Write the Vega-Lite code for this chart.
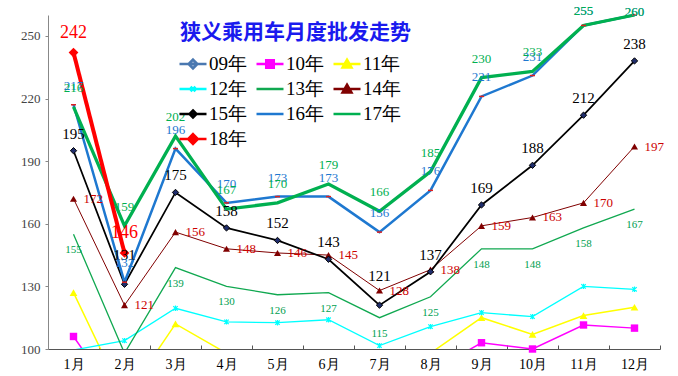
{
  "$schema": "https://vega.github.io/schema/vega-lite/v6.json",
  "width": 612,
  "height": 334,
  "autosize": {"type": "none"},
  "padding": {"left": 48, "top": 15, "right": 18, "bottom": 27},
  "background": "white",
  "config": {
    "view": {"stroke": null},
    "legend": {"title": null, "orient": "none", "legendX": 130, "legendY": 34, "columns": 3, "direction": "horizontal", "symbolSize": 729, "symbolStrokeWidth": 2.5, "labelFont": "Liberation Serif", "labelFontSize": 19, "labelColor": "#000", "columnPadding": 4, "rowPadding": -5, "labelOffset": 1, "padding": 0, "symbolOpacity": 1, "labelLimit": 0}
  },
  "title": {
    "text": "狭义乘用车月度批发走势",
    "anchor": "start",
    "frame": "group",
    "orient": "top",
    "offset": 0,
    "baseline": "middle",
    "dx": 132,
    "dy": 49,
    "font": "Noto Sans CJK SC",
    "fontSize": 21,
    "fontWeight": "bold",
    "color": "#1a1aee"
  },
  "data": {
    "values": [
      {"series": "09年", "month": "1月", "value": 66}, {"series": "09年", "month": "2月", "value": 67}, {"series": "09年", "month": "3月", "value": 84}, {"series": "09年", "month": "4月", "value": 85}, {"series": "09年", "month": "5月", "value": 81}, {"series": "09年", "month": "6月", "value": 88}, {"series": "09年", "month": "7月", "value": 84}, {"series": "09年", "month": "8月", "value": 87}, {"series": "09年", "month": "9月", "value": 97}, {"series": "09年", "month": "10月", "value": 92}, {"series": "09年", "month": "11月", "value": 96}, {"series": "09年", "month": "12月", "value": 98},
      {"series": "10年", "month": "1月", "value": 106}, {"series": "10年", "month": "2月", "value": 71}, {"series": "10年", "month": "3月", "value": 98}, {"series": "10年", "month": "4月", "value": 93}, {"series": "10年", "month": "5月", "value": 90}, {"series": "10年", "month": "6月", "value": 91}, {"series": "10年", "month": "7月", "value": 82}, {"series": "10年", "month": "8月", "value": 89}, {"series": "10年", "month": "9月", "value": 103}, {"series": "10年", "month": "10月", "value": 100}, {"series": "10年", "month": "11月", "value": 111.5}, {"series": "10年", "month": "12月", "value": 110},
      {"series": "11年", "month": "1月", "value": 127}, {"series": "11年", "month": "2月", "value": 76}, {"series": "11年", "month": "3月", "value": 112}, {"series": "11年", "month": "4月", "value": 98}, {"series": "11年", "month": "5月", "value": 94}, {"series": "11年", "month": "6月", "value": 97}, {"series": "11年", "month": "7月", "value": 85}, {"series": "11年", "month": "8月", "value": 98}, {"series": "11年", "month": "9月", "value": 115}, {"series": "11年", "month": "10月", "value": 107}, {"series": "11年", "month": "11月", "value": 116}, {"series": "11年", "month": "12月", "value": 120},
      {"series": "12年", "month": "1月", "value": 99.5}, {"series": "12年", "month": "2月", "value": 104}, {"series": "12年", "month": "3月", "value": 119.5}, {"series": "12年", "month": "4月", "value": 113}, {"series": "12年", "month": "5月", "value": 112.6}, {"series": "12年", "month": "6月", "value": 114}, {"series": "12年", "month": "7月", "value": 101.6}, {"series": "12年", "month": "8月", "value": 110.7}, {"series": "12年", "month": "9月", "value": 117.4}, {"series": "12年", "month": "10月", "value": 115.5}, {"series": "12年", "month": "11月", "value": 130}, {"series": "12年", "month": "12月", "value": 128.6},
      {"series": "13年", "month": "1月", "value": 155}, {"series": "13年", "month": "2月", "value": 98}, {"series": "13年", "month": "3月", "value": 139}, {"series": "13年", "month": "4月", "value": 130}, {"series": "13年", "month": "5月", "value": 126}, {"series": "13年", "month": "6月", "value": 127}, {"series": "13年", "month": "7月", "value": 115}, {"series": "13年", "month": "8月", "value": 125}, {"series": "13年", "month": "9月", "value": 148}, {"series": "13年", "month": "10月", "value": 148}, {"series": "13年", "month": "11月", "value": 158}, {"series": "13年", "month": "12月", "value": 167},
      {"series": "14年", "month": "1月", "value": 172}, {"series": "14年", "month": "2月", "value": 121}, {"series": "14年", "month": "3月", "value": 156}, {"series": "14年", "month": "4月", "value": 148}, {"series": "14年", "month": "5月", "value": 146}, {"series": "14年", "month": "6月", "value": 145}, {"series": "14年", "month": "7月", "value": 128}, {"series": "14年", "month": "8月", "value": 138}, {"series": "14年", "month": "9月", "value": 159}, {"series": "14年", "month": "10月", "value": 163}, {"series": "14年", "month": "11月", "value": 170}, {"series": "14年", "month": "12月", "value": 197},
      {"series": "15年", "month": "1月", "value": 195}, {"series": "15年", "month": "2月", "value": 131}, {"series": "15年", "month": "3月", "value": 175}, {"series": "15年", "month": "4月", "value": 158}, {"series": "15年", "month": "5月", "value": 152}, {"series": "15年", "month": "6月", "value": 143}, {"series": "15年", "month": "7月", "value": 121}, {"series": "15年", "month": "8月", "value": 137}, {"series": "15年", "month": "9月", "value": 169}, {"series": "15年", "month": "10月", "value": 188}, {"series": "15年", "month": "11月", "value": 212}, {"series": "15年", "month": "12月", "value": 238},
      {"series": "16年", "month": "1月", "value": 217}, {"series": "16年", "month": "2月", "value": 132}, {"series": "16年", "month": "3月", "value": 196}, {"series": "16年", "month": "4月", "value": 170}, {"series": "16年", "month": "5月", "value": 173}, {"series": "16年", "month": "6月", "value": 173}, {"series": "16年", "month": "7月", "value": 156}, {"series": "16年", "month": "8月", "value": 176}, {"series": "16年", "month": "9月", "value": 221}, {"series": "16年", "month": "10月", "value": 231}, {"series": "16年", "month": "11月", "value": 255}, {"series": "16年", "month": "12月", "value": 260},
      {"series": "17年", "month": "1月", "value": 216}, {"series": "17年", "month": "2月", "value": 159}, {"series": "17年", "month": "3月", "value": 202}, {"series": "17年", "month": "4月", "value": 167}, {"series": "17年", "month": "5月", "value": 170}, {"series": "17年", "month": "6月", "value": 179}, {"series": "17年", "month": "7月", "value": 166}, {"series": "17年", "month": "8月", "value": 185}, {"series": "17年", "month": "9月", "value": 230}, {"series": "17年", "month": "10月", "value": 233}, {"series": "17年", "month": "11月", "value": 255}, {"series": "17年", "month": "12月", "value": 260},
      {"series": "18年", "month": "1月", "value": 242}, {"series": "18年", "month": "2月", "value": 146}
    ]
  },
  "encoding": {
    "x": {
      "field": "month", "type": "ordinal", "bandPosition": 0.5,
      "scale": {"type": "band", "domain": ["1月","2月","3月","4月","5月","6月","7月","8月","9月","10月","11月","12月"], "paddingInner": 0, "paddingOuter": 0},
      "axis": {"title": null, "tickBand": "extent", "tickSize": -4, "tickColor": "#555", "domainColor": "#555", "labelFont": "Liberation Serif", "labelFontSize": 14, "labelColor": "#000", "labelPadding": 12, "labelAngle": 0, "grid": false}
    },
    "y": {
      "field": "value", "type": "quantitative",
      "scale": {"domain": [100, 260], "nice": false, "zero": false},
      "axis": {"title": null, "values": [100,130,160,190,220,250], "domainColor": "#888", "tickColor": "#888", "tickSize": 3, "labelFont": "Liberation Serif", "labelFontSize": 13, "labelColor": "#444", "labelPadding": 5, "grid": false}
    }
  },
  "layer": [
    {
      "transform": [{"filter": {"field": "series", "oneOf": ["09年","10年","11年","12年","13年"]}}],
      "mark": {"type": "line", "clip": true},
      "encoding": {
        "stroke": {"field": "series", "type": "nominal", "scale": {"domain": ["09年","10年","11年","12年","13年","14年","15年","16年","17年","18年"], "range": ["#4a78b0","#ff00ff","#ffff00","#00ffff","#10a850","#800000","#000000","#1e78d0","#00b050","#ff0000"]}, "legend": null},
        "strokeWidth": {"field": "series", "type": "nominal", "scale": {"type": "ordinal", "domain": ["09年","10年","11年","12年","13年","14年","15年","16年","17年","18年"], "range": [3, 1.5, 1.5, 1.3, 1.3, 1.2, 2.5, 3.5, 4, 3.5]}, "legend": null}
      }
    },
    {
      "transform": [{"filter": {"field": "series", "oneOf": ["14年","15年","16年","17年","18年"]}}],
      "mark": {"type": "line"},
      "encoding": {
        "stroke": {"field": "series", "type": "nominal", "legend": null},
        "strokeWidth": {"field": "series", "type": "nominal", "legend": null}
      }
    },
    {
      "transform": [{"filter": "datum.series == '10年' && datum.value >= 100"}],
      "mark": {"type": "point", "shape": "square", "filled": true, "fill": "#ff00ff", "size": 55, "opacity": 1}
    },
    {
      "transform": [{"filter": "datum.series == '11年' && datum.value >= 100"}],
      "mark": {"type": "point", "shape": "triangle-up", "filled": true, "fill": "#ffff00", "size": 60, "opacity": 1}
    },
    {
      "transform": [{"filter": "datum.series == '12年' && datum.value >= 100"}],
      "mark": {"type": "point", "shape": "M-1,-1L1,1M-1,1L1,-1M0,-1.2L0,1.2", "filled": false, "stroke": "#00ffff", "strokeWidth": 1.2, "size": 20, "opacity": 1}
    },
    {
      "transform": [{"filter": "datum.series == '14年'"}],
      "mark": {"type": "point", "shape": "triangle-up", "filled": true, "fill": "#800000", "size": 50, "opacity": 1}
    },
    {
      "transform": [{"filter": "datum.series == '15年'"}],
      "mark": {"type": "point", "shape": "diamond", "filled": true, "fill": "#1f2d6b", "stroke": "#000", "strokeWidth": 1, "size": 40, "opacity": 1}
    },
    {
      "transform": [{"filter": "datum.series == '16年'"}],
      "mark": {"type": "point", "shape": "M-1,0L1,0", "filled": false, "stroke": "#dd2020", "strokeWidth": 1.5, "size": 25, "opacity": 1}
    },
    {
      "transform": [{"filter": "datum.series == '18年'"}],
      "mark": {"type": "point", "shape": "diamond", "filled": true, "fill": "#ff0000", "size": 95, "opacity": 1}
    },
    {
      "transform": [{"filter": "datum.series == '13年' && datum.value >= 100"}],
      "mark": {"type": "text", "dy": 16, "font": "Liberation Serif", "fontSize": 11, "fill": "#00a050"},
      "encoding": {"text": {"field": "value", "type": "quantitative"}}
    },
    {
      "transform": [{"filter": "datum.series == '14年'"}],
      "mark": {"type": "text", "align": "left", "dx": 10, "font": "Liberation Serif", "fontSize": 13, "fill": "#cc0000"},
      "encoding": {"text": {"field": "value", "type": "quantitative"}}
    },
    {
      "transform": [{"filter": "datum.series == '15年' && datum.month != '2月' && datum.month != '7月'"}],
      "mark": {"type": "text", "dy": -17, "font": "Liberation Serif", "fontSize": 15, "fill": "#000"},
      "encoding": {"text": {"field": "value", "type": "quantitative"}}
    },
    {
      "transform": [{"filter": "datum.series == '15年' && (datum.month == '2月' || datum.month == '7月')"}],
      "mark": {"type": "text", "dy": -29, "font": "Liberation Serif", "fontSize": 15, "fill": "#000"},
      "encoding": {"text": {"field": "value", "type": "quantitative"}}
    },
    {
      "transform": [{"filter": "datum.series == '16年' && datum.month != '11月' && datum.month != '12月'"}],
      "mark": {"type": "text", "dy": -19, "font": "Liberation Serif", "fontSize": 13, "fill": "#1e78d0"},
      "encoding": {"text": {"field": "value", "type": "quantitative"}}
    },
    {
      "transform": [{"filter": "datum.series == '17年' && datum.month != '11月' && datum.month != '12月'"}],
      "mark": {"type": "text", "dy": -19, "font": "Liberation Serif", "fontSize": 13, "fill": "#00b050"},
      "encoding": {"text": {"field": "value", "type": "quantitative"}}
    },
    {
      "transform": [{"filter": "datum.series == '16年' && datum.month == '11月'"}],
      "mark": {"type": "text", "dy": -14, "font": "Liberation Serif", "fontSize": 13, "fill": "#1e78d0"},
      "encoding": {"text": {"field": "value", "type": "quantitative"}}
    },
    {
      "transform": [{"filter": "datum.series == '17年' && datum.month == '11月'"}],
      "mark": {"type": "text", "dy": -14, "font": "Liberation Serif", "fontSize": 13, "fill": "#00b050"},
      "encoding": {"text": {"field": "value", "type": "quantitative"}}
    },
    {
      "transform": [{"filter": "datum.series == '16年' && datum.month == '12月'"}],
      "mark": {"type": "text", "dy": -3, "font": "Liberation Serif", "fontSize": 13, "fill": "#1e78d0"},
      "encoding": {"text": {"field": "value", "type": "quantitative"}}
    },
    {
      "transform": [{"filter": "datum.series == '17年' && datum.month == '12月'"}],
      "mark": {"type": "text", "dy": -3, "font": "Liberation Serif", "fontSize": 13, "fill": "#00b050"},
      "encoding": {"text": {"field": "value", "type": "quantitative"}}
    },
    {
      "transform": [{"filter": "datum.series == '18年'"}],
      "mark": {"type": "text", "dy": -20, "font": "Liberation Serif", "fontSize": 18, "fill": "#ff0000"},
      "encoding": {"text": {"field": "value", "type": "quantitative"}}
    },
    {
      "transform": [{"filter": "datum.month == '1月'"}],
      "mark": {"type": "point", "filled": false, "opacity": 0},
      "encoding": {
        "shape": {
          "field": "series", "type": "nominal",
          "scale": {"range": [
            "M-1,0L1,0M0,-0.33L0.33,0L0,0.33L-0.33,0Z",
            "M-1,0L1,0M-0.28,-0.28L0.28,-0.28L0.28,0.28L-0.28,0.28Z",
            "M-1,0L1,0M0,-0.32L0.33,0.26L-0.33,0.26Z",
            "M-1,0L1,0M-0.18,-0.18L0.18,0.18M-0.18,0.18L0.18,-0.18",
            "M-1,0L1,0",
            "M-1,0L1,0M0,-0.32L0.33,0.26L-0.33,0.26Z",
            "M-1,0L1,0M0,-0.26L0.26,0L0,0.26L-0.26,0Z",
            "M-1,0L1,0",
            "M-1,0L1,0",
            "M-1,0L1,0M0,-0.36L0.36,0L0,0.36L-0.36,0Z"
          ]}
        },
        "color": {"field": "series", "type": "nominal", "scale": {"range": ["#4a78b0","#ff00ff","#ffff00","#00ffff","#10a850","#800000","#000000","#1e78d0","#00b050","#ff0000"]}},
        "fill": {"field": "series", "type": "nominal", "scale": {"range": ["#9fb6d8","#ff00ff","#ffff00","#00ffff","#10a850","#800000","#1f2d6b","#1e78d0","#00b050","#ff0000"]}}
      }
    }
  ]
}
